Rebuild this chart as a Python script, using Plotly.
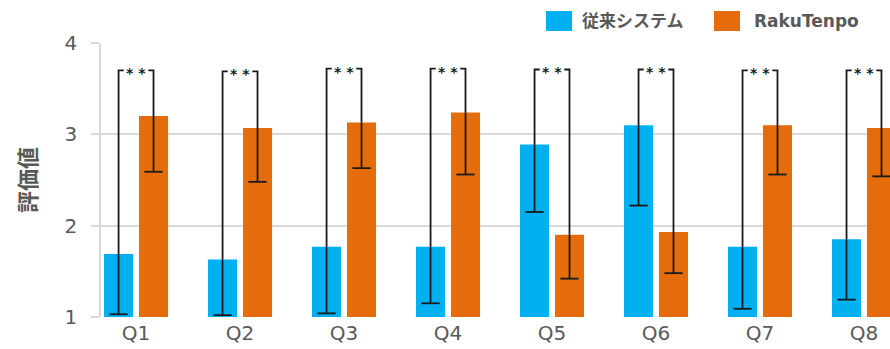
import plotly.graph_objects as go

categories = ["Q1", "Q2", "Q3", "Q4", "Q5", "Q6", "Q7", "Q8"]
series_names = ["従来システム", "RakuTenpo"]
conv_values = [1.69, 1.63, 1.77, 1.77, 2.89, 3.10, 1.77, 1.85]
conv_err_minus = [0.66, 0.61, 0.73, 0.62, 0.74, 0.88, 0.68, 0.66]
raku_values = [3.20, 3.07, 3.13, 3.24, 1.90, 1.93, 3.10, 3.07]
raku_err_minus = [0.61, 0.59, 0.50, 0.68, 0.48, 0.45, 0.54, 0.53]
bracket_levels = [3.70, 3.69, 3.72, 3.72, 3.71, 3.71, 3.70, 3.70]
sig_labels = ["* *"] * 8
y_ticks = [1, 2, 3, 4]

BLUE = "#00B0F0"
ORANGE = "#E46C0A"
GRAY = "#595959"
GRID = "#D9D9D9"
LINE = "#1A1A1A"

xs = list(range(len(categories)))
off = 0.168
stub = 0.05

fig = go.Figure()
fig.add_trace(go.Bar(
    x=xs, y=[v - 1 for v in conv_values], base=1, name=series_names[0],
    marker=dict(color=BLUE, line=dict(width=0)),
    error_y=dict(type="data", symmetric=False, array=[0] * 8,
                 arrayminus=conv_err_minus, color=LINE, thickness=1.8, width=0),
    showlegend=False,
))
fig.add_trace(go.Bar(
    x=xs, y=[v - 1 for v in raku_values], base=1, name=series_names[1],
    marker=dict(color=ORANGE, line=dict(width=0)),
    error_y=dict(type="data", symmetric=False, array=[0] * 8,
                 arrayminus=raku_err_minus, color=LINE, thickness=1.8, width=0),
    showlegend=False,
))

# lower caps of the error bars
cap_x = [i - off for i in xs] + [i + off for i in xs]
cap_y = [v - e for v, e in zip(conv_values, conv_err_minus)] + \
        [v - e for v, e in zip(raku_values, raku_err_minus)]
fig.add_trace(go.Scatter(x=cap_x, y=cap_y, mode="markers",
                         marker=dict(symbol="line-ew-open", size=13, color=LINE,
                                     line=dict(color=LINE, width=1.8)),
                         showlegend=False, hoverinfo="skip"))

# significance brackets
bx, by = [], []
for i, (cv, rv, b) in enumerate(zip(conv_values, raku_values, bracket_levels)):
    bx += [i - off, i - off, i - off + stub, None]
    by += [cv, b, b, None]
    bx += [i + off - stub, i + off, i + off, None]
    by += [b, b, rv, None]
fig.add_trace(go.Scatter(x=bx, y=by, mode="lines",
                         line=dict(color=LINE, width=1.8),
                         showlegend=False, hoverinfo="skip"))

for i, (b, s) in enumerate(zip(bracket_levels, sig_labels)):
    fig.add_annotation(x=i, y=b, text="<b>" + s + "</b>", showarrow=False, yshift=-3,
                       font=dict(family="DejaVu Sans", size=14, color=LINE),
                       xanchor="center", yanchor="middle")

# legend (drawn manually for large swatches)
legend_items = [(series_names[0], BLUE, 546, 580), (series_names[1], ORANGE, 714, 752)]
for name, col, sx, tx in legend_items:
    fig.add_shape(type="rect", xref="paper", yref="paper",
                  x0=(sx - 101) / 789, x1=(sx + 26 - 101) / 789,
                  y0=1 + (43 - 31) / 274, y1=1 + (43 - 11) / 274,
                  fillcolor=col, line=dict(width=0), layer="above")
    fig.add_annotation(xref="paper", yref="paper",
                       x=(tx - 101) / 789, y=1 + (43 - 21) / 274,
                       text="<b>" + name + "</b>", showarrow=False,
                       xanchor="left", yanchor="middle",
                       font=dict(family="DejaVu Sans, Noto Sans CJK JP", size=17, color=GRAY))

fig.update_layout(
    width=890, height=349,
    margin=dict(l=101, r=0, t=43, b=32),
    paper_bgcolor="white", plot_bgcolor="white",
    barmode="group", bargap=0.327, bargroupgap=0.17,
    font=dict(family="DejaVu Sans", color=GRAY),
    showlegend=False,
)
fig.update_xaxes(
    tickmode="array", tickvals=xs, ticktext=categories,
    range=[-0.337, 7.25], showgrid=False, zeroline=False,
    showline=False, ticks="", tickfont=dict(size=20, color=GRAY),
    ticklabelstandoff=2,
)
fig.update_yaxes(
    range=[1, 4], tickvals=y_ticks, showgrid=True, gridcolor=GRID, gridwidth=1.5,
    zeroline=False, showline=True, linecolor=GRID, linewidth=1.5,
    ticks="outside", ticklen=8, tickcolor=GRID, tickwidth=1.5,
    tickfont=dict(size=20, color=GRAY), ticklabelstandoff=10,
    title=dict(text="<b>評価値</b>", standoff=22,
               font=dict(family="Noto Sans CJK JP", size=22, color=GRAY)),
)

fig.write_html("out.html", config={"displayModeBar": False},
               post_script="document.body.style.margin='0';document.body.style.overflow='hidden';")
